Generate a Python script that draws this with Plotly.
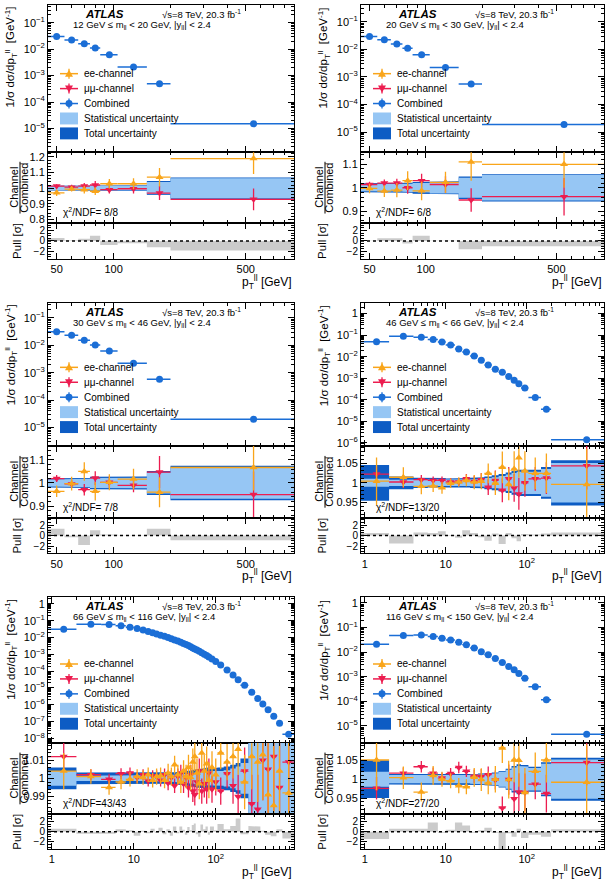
import numpy as np
import plotly.graph_objects as go

# ---------------------------------------------------------------- data
edges_low = [45, 55, 65, 75, 85, 105, 150, 200, 900]
ptc_low = [50, 60, 70, 80, 95, 127.5, 175, 550]

edges_off = [0, 2, 4, 6, 8, 10, 13, 16, 20, 25, 30, 37, 45, 55, 65, 75, 85, 105, 150, 200, 900]
ptc_off = [1.4, 3, 5, 7, 9, 11.5, 14.5, 18, 22.5, 27.5, 33.5, 41, 50, 60, 70, 80, 95, 127.5, 175, 550]

edges_peak = [0, 2, 4, 6, 8, 10, 12, 14, 16, 18, 20, 22.5, 25, 27.5, 30, 33, 36, 39, 42, 45, 48, 51,
              54, 57, 61, 65, 70, 75, 80, 85, 95, 105, 125, 150, 175, 200, 250, 300, 350, 400, 470,
              550, 650, 900]
ptc_peak = [1.4, 3, 5, 7, 9, 11, 13, 15, 17, 19, 21.25, 23.75, 26.25, 28.75, 31.5, 34.5, 37.5, 40.5,
            43.5, 46.5, 49.5, 52.5, 55.5, 59, 63, 67.5, 72.5, 77.5, 82.5, 90, 100, 115, 137.5, 162.5,
            187.5, 225, 275, 325, 375, 435, 510, 600, 775]

mass_labels = [
    "12 GeV ≤ m<sub>ll</sub> &lt; 20 GeV, |y<sub>ll</sub>| &lt; 2.4",
    "20 GeV ≤ m<sub>ll</sub> &lt; 30 GeV, |y<sub>ll</sub>| &lt; 2.4",
    "30 GeV ≤ m<sub>ll</sub> &lt; 46 GeV, |y<sub>ll</sub>| &lt; 2.4",
    "46 GeV ≤ m<sub>ll</sub> &lt; 66 GeV, |y<sub>ll</sub>| &lt; 2.4",
    "66 GeV ≤ m<sub>ll</sub> &lt; 116 GeV, |y<sub>ll</sub>| &lt; 2.4",
    "116 GeV ≤ m<sub>ll</sub> &lt; 150 GeV, |y<sub>ll</sub>| &lt; 2.4",
]
chi2_labels = ["χ<sup>2</sup>/NDF= 8/8", "χ<sup>2</sup>/NDF= 6/8", "χ<sup>2</sup>/NDF= 7/8",
               "χ<sup>2</sup>/NDF=13/20", "χ<sup>2</sup>/NDF=43/43", "χ<sup>2</sup>/NDF=27/20"]

# 12-20 GeV
comb_m12 = [0.030, 0.022, 0.016, 0.011, 0.0062, 0.0021, 0.00049, 1.5e-5]
ee_m12 = [0.970, 0.994, 0.990, 0.980, 1.028, 1.028, 1.070, 1.190]
ee_err_m12 = [0.020, 0.015, 0.025, 0.025, 0.030, 0.035, 0.060, 0.100]
mm_m12 = [1.013, 1.006, 1.013, 1.020, 0.990, 0.996, 0.968, 0.928]
mm_err_m12 = [0.012, 0.015, 0.020, 0.025, 0.025, 0.030, 0.045, 0.070]
stat_m12 = [0.012, 0.011, 0.012, 0.013, 0.012, 0.015, 0.040, 0.063]
tot_m12 = [0.016, 0.015, 0.016, 0.017, 0.016, 0.019, 0.045, 0.068]
pull_m12 = [0.55, 0.1, 0.4, 1.0, -0.8, -0.45, -1.2, -1.8]

# 20-30 GeV
comb_m20 = [0.0295, 0.0224, 0.0156, 0.011, 0.0064, 0.0022, 0.00056, 1.9e-5]
ee_m20 = [0.997, 0.986, 0.990, 1.030, 0.987, 1.023, 1.110, 1.100]
ee_err_m20 = [0.020, 0.025, 0.030, 0.040, 0.040, 0.045, 0.080, 0.100]
mm_m20 = [1.014, 1.020, 1.020, 1.000, 1.030, 1.014, 0.948, 0.962]
mm_err_m20 = [0.012, 0.015, 0.018, 0.025, 0.030, 0.035, 0.050, 0.080]
stat_m20 = [0.015, 0.015, 0.016, 0.017, 0.020, 0.024, 0.043, 0.054]
tot_m20 = [0.019, 0.019, 0.020, 0.021, 0.025, 0.028, 0.048, 0.058]
pull_m20 = [0.05, 0.5, 0.5, -0.5, 1.0, 0.05, -1.6, -1.0]

# 30-46 GeV
comb_m30 = [0.031, 0.0234, 0.0154, 0.0102, 0.0062, 0.0022, 0.00058, 2.0e-5]
ee_m30 = [0.964, 0.997, 1.050, 0.964, 1.003, 1.017, 0.960, 1.067]
ee_err_m30 = [0.025, 0.030, 0.040, 0.040, 0.035, 0.045, 0.065, 0.100]
mm_m30 = [1.019, 0.996, 0.971, 1.021, 1.003, 0.990, 1.047, 0.950]
mm_err_m30 = [0.015, 0.018, 0.025, 0.030, 0.025, 0.030, 0.070, 0.100]
stat_m30 = [0.015, 0.016, 0.018, 0.022, 0.022, 0.023, 0.045, 0.068]
tot_m30 = [0.020, 0.020, 0.022, 0.027, 0.027, 0.028, 0.052, 0.075]
pull_m30 = [1.3, -0.3, -1.8, 1.0, 0.2, 0.05, 1.3, -0.9]

# 46-66 GeV
comb_m46 = [0.049, 0.090, 0.081, 0.063, 0.048, 0.035, 0.023, 0.0165, 0.0107, 0.0068, 0.0041, 0.0026,
            0.0019, 0.0012, 0.00082, 0.00056, 0.00035, 0.000128, 3.7e-5, 1.4e-6]
ee_m46 = [1.004, 1.014, 0.991, 0.992, 0.9875, 0.999, 1.002, 1.006, 1.002, 1.004, 1.024, 0.999,
          1.039, 0.996, 1.035, 1.063, 1.030, 1.024, 1.024, 0.996]
ee_err_m46 = [0.060, 0.025, 0.020, 0.015, 0.015, 0.012, 0.012, 0.015, 0.018, 0.020, 0.025, 0.030,
              0.040, 0.040, 0.045, 0.050, 0.050, 0.040, 0.050, 0.090]
mm_m46 = [1.022, 1.002, 1.008, 1.006, 1.006, 1.002, 1.002, 1.010, 1.003, 1.008, 0.989, 1.006,
          0.981, 1.010, 0.987, 0.972, 1.000, 1.010, 1.012, 1.043]
mm_err_m46 = [0.020, 0.015, 0.012, 0.010, 0.010, 0.010, 0.010, 0.012, 0.015, 0.017, 0.020, 0.025,
              0.030, 0.030, 0.035, 0.040, 0.035, 0.030, 0.040, 0.060]
stat_m46 = [0.010, 0.008, 0.008, 0.008, 0.008, 0.008, 0.008, 0.008, 0.009, 0.010, 0.012, 0.014,
            0.017, 0.021, 0.025, 0.028, 0.028, 0.028, 0.035, 0.050]
tot_m46 = [0.045, 0.016, 0.013, 0.012, 0.012, 0.011, 0.011, 0.012, 0.013, 0.014, 0.016, 0.019,
           0.022, 0.026, 0.030, 0.033, 0.033, 0.033, 0.040, 0.057]
pull_m46 = [0.5, -1.5, 0.6, 0.5, 0.8, 0.1, -0.4, 1.0, 0.5, -0.3, -1.0, 0.4, -1.6, 0.5, -0.5, -1.1,
            0.3, 0.2, 0.4, 0.6]

# 66-116 GeV
comb_m66 = [0.031, 0.061, 0.060, 0.050, 0.041, 0.034, 0.028, 0.023, 0.0193, 0.0163, 0.0138, 0.0117,
            0.0099, 0.0085, 0.0072, 0.0061, 0.0052, 0.0044, 0.0038, 0.0033, 0.0028, 0.0024, 0.0021,
            0.0018, 0.0015, 0.00125, 0.00102, 0.00084, 0.00069, 0.00052, 0.00037, 0.00023,
            0.000118, 0.000058, 0.000031, 1.45e-5, 5.6e-6, 2.4e-6, 1.1e-6, 5.0e-7, 2.1e-7,
            8.0e-8, 1.8e-8]
ee_m66 = [1.004, 1.001, 0.995, 0.998, 0.9995, 1.001, 1.0005, 1.002, 0.999, 1.001, 1.0015, 0.999,
          1.003, 1.001, 1.0075, 1.002, 0.998, 1.004, 1.001, 1.006, 1.0005, 1.009, 1.012, 1.003,
          0.997, 1.014, 1.004, 1.008, 0.999, 1.006, 1.002, 1.014, 1.009, 1.012, 1.016, 0.998,
          1.012, 1.009, 1.013, 0.991, 0.985, 1.004, 0.992]
ee_err_m66 = [0.010, 0.004, 0.004, 0.004, 0.004, 0.004, 0.004, 0.004, 0.004, 0.0045, 0.0045,
              0.0045, 0.005, 0.005, 0.005, 0.0055, 0.006, 0.006, 0.0065, 0.007, 0.007, 0.0075,
              0.008, 0.008, 0.0085, 0.009, 0.009, 0.0095, 0.010, 0.009, 0.009, 0.009, 0.010,
              0.012, 0.014, 0.015, 0.018, 0.022, 0.025, 0.030, 0.035, 0.040, 0.050]
mm_m66 = [1.012, 1.002, 0.9995, 1.0026, 1.003, 1.0005, 1.002, 0.9985, 1.0015, 1.001, 0.999, 1.002,
          0.9975, 1.0005, 0.996, 1.001, 1.003, 0.997, 1.0005, 0.995, 1.002, 0.993, 0.991, 0.998,
          1.004, 0.993, 0.997, 0.994, 1.003, 0.994, 0.998, 0.993, 1.0025, 0.996, 0.990, 1.004,
          0.986, 0.983, 1.010, 1.005, 1.012, 0.995, 1.009]
mm_err_m66 = [0.008, 0.003, 0.003, 0.003, 0.003, 0.003, 0.003, 0.003, 0.003, 0.0035, 0.0035,
              0.0035, 0.004, 0.004, 0.004, 0.0045, 0.0045, 0.005, 0.005, 0.0055, 0.0055, 0.006,
              0.006, 0.0065, 0.007, 0.007, 0.0075, 0.008, 0.008, 0.0075, 0.0075, 0.0075, 0.008,
              0.010, 0.012, 0.013, 0.016, 0.019, 0.022, 0.026, 0.030, 0.035, 0.045]
stat_m66 = [0.004, 0.0015, 0.0015, 0.0015, 0.0015, 0.0015, 0.0015, 0.0015, 0.0015, 0.0016, 0.0016,
            0.0017, 0.0018, 0.0019, 0.002, 0.0021, 0.0022, 0.0024, 0.0025, 0.0027, 0.0028, 0.003,
            0.0032, 0.0033, 0.0035, 0.0036, 0.0038, 0.004, 0.0042, 0.0038, 0.004, 0.004, 0.0045,
            0.0055, 0.0065, 0.0085, 0.025, 0.030, 0.035, 0.040, 0.050, 0.060, 0.080]
tot_m66 = [0.006, 0.0032, 0.003, 0.003, 0.003, 0.003, 0.003, 0.003, 0.003, 0.003, 0.003, 0.003,
           0.0032, 0.0033, 0.0034, 0.0035, 0.0036, 0.0038, 0.004, 0.0042, 0.0044, 0.0046, 0.0048,
           0.005, 0.0052, 0.0054, 0.0056, 0.0058, 0.006, 0.0055, 0.0058, 0.006, 0.0065, 0.0075,
           0.0085, 0.011, 0.028, 0.033, 0.038, 0.043, 0.053, 0.063, 0.085]
pull_m66 = [0.6, -0.4, -0.4, 0.5, 0.3, -0.8, 0.2, -0.3, 0.6, -0.2, 0.8, -0.5, 0.5, -0.8, 1.0, -0.3,
            1.0, 0.4, -0.6, 0.9, 0.3, 1.3, 1.6, -0.5, -1.0, 1.4, 0.5, 1.0, -0.6, 1.0, 0.3, 1.5,
            0.5, 1.1, 2.6, -0.5, 1.1, 1.0, 0.2, -0.6, -0.9, 0.5, -1.3]

# 116-150 GeV
comb_m116 = [0.021, 0.047, 0.050, 0.043, 0.037, 0.031, 0.025, 0.020, 0.0147, 0.0104, 0.0078, 0.0055,
             0.0038, 0.0026, 0.0019, 0.00135, 0.00087, 0.00039, 0.000115, 4.6e-6]
ee_m116 = [1.051, 1.004, 0.966, 1.010, 1.000, 0.996, 0.983, 0.980, 1.005, 0.999, 0.990, 1.000,
           1.083, 0.999, 1.051, 1.050, 0.965, 1.021, 1.051, 0.992]
ee_err_m116 = [0.080, 0.030, 0.025, 0.025, 0.020, 0.020, 0.020, 0.020, 0.025, 0.030, 0.030, 0.035,
               0.040, 0.050, 0.060, 0.070, 0.065, 0.050, 0.060, 0.100]
mm_m116 = [0.976, 1.016, 1.033, 1.016, 1.003, 1.015, 1.031, 1.021, 1.008, 1.007, 1.012, 0.998,
           0.924, 0.999, 0.948, 0.966, 0.965, 0.987, 0.962, 1.044]
mm_err_m116 = [0.030, 0.015, 0.015, 0.015, 0.015, 0.015, 0.015, 0.015, 0.018, 0.020, 0.022, 0.025,
               0.030, 0.040, 0.045, 0.050, 0.050, 0.040, 0.050, 0.060]
stat_m116 = [0.020, 0.011, 0.010, 0.010, 0.010, 0.010, 0.011, 0.011, 0.012, 0.013, 0.014, 0.016,
             0.020, 0.025, 0.031, 0.035, 0.034, 0.030, 0.041, 0.052]
tot_m116 = [0.050, 0.014, 0.013, 0.013, 0.013, 0.013, 0.013, 0.014, 0.014, 0.015, 0.016, 0.018,
            0.022, 0.028, 0.035, 0.040, 0.038, 0.033, 0.045, 0.057]
pull_m116 = [-1.4, 0.6, 0.6, 1.8, -0.2, 0.4, 1.8, 1.2, -0.2, 0.3, 0.8, -0.2, -3.5, -0.3, -1.0, 0.6,
             -1.2, -0.6, -1.0, 0.5]

panels = [
    dict(edges=edges_low, x=ptc_low, comb=comb_m12, ee=ee_m12, ee_err=ee_err_m12, mm=mm_m12,
         mm_err=mm_err_m12, stat=stat_m12, tot=tot_m12, pull=pull_m12),
    dict(edges=edges_low, x=ptc_low, comb=comb_m20, ee=ee_m20, ee_err=ee_err_m20, mm=mm_m20,
         mm_err=mm_err_m20, stat=stat_m20, tot=tot_m20, pull=pull_m20),
    dict(edges=edges_low, x=ptc_low, comb=comb_m30, ee=ee_m30, ee_err=ee_err_m30, mm=mm_m30,
         mm_err=mm_err_m30, stat=stat_m30, tot=tot_m30, pull=pull_m30),
    dict(edges=edges_off, x=ptc_off, comb=comb_m46, ee=ee_m46, ee_err=ee_err_m46, mm=mm_m46,
         mm_err=mm_err_m46, stat=stat_m46, tot=tot_m46, pull=pull_m46),
    dict(edges=edges_peak, x=ptc_peak, comb=comb_m66, ee=ee_m66, ee_err=ee_err_m66, mm=mm_m66,
         mm_err=mm_err_m66, stat=stat_m66, tot=tot_m66, pull=pull_m66),
    dict(edges=edges_off, x=ptc_off, comb=comb_m116, ee=ee_m116, ee_err=ee_err_m116, mm=mm_m116,
         mm_err=mm_err_m116, stat=stat_m116, tot=tot_m116, pull=pull_m116),
]

# ---------------------------------------------------------------- style / geometry
W, H = 610, 885
FONT = "Liberation Sans, Arial, Helvetica, sans-serif"
ORANGE = "#f9a51a"
RED = "#ec1c4f"
BLUE = "#1b6ed6"
LIGHT = "#96c6f4"
DARK = "#0d5cc4"
GREY = "#cbcbcb"

COLS = [(48, 294), (361, 604)]
ROWS = [(4, 152, 223, 259), (303, 447, 519, 555), (599, 745, 817, 852)]
# horizontal offsets (from left axis) of the ratio / pull titles, per column
TITLE_OFF = [dict(chan=-34, comb=-24, pull=-31), dict(chan=-42, comb=-32, pull=-39)]

main_yr = [[-5.9, -0.33], [-5.73, -0.39], [-5.68, -0.44], [-6.14, 0.51], [-8.25, 0.39], [-5.68, 0.23]]
ratio_yr = [[0.776, 1.23], [0.85, 1.151], [0.85, 1.16], [0.912, 1.093], [0.9802, 1.0197], [0.907, 1.097]]
ratio_dt = [(0.1, 0.02), (0.1, 0.02), (0.1, 0.02), (0.05, 0.01), (0.01, 0.002), (0.05, 0.01)]
pull_yr = [-3.4, 3.4]
XLOW = 0.5


def px(x):
    return x / W


def py(y):
    return 1 - y / H


fig = go.Figure()
layout = dict(width=W, height=H, margin=dict(l=0, r=0, t=0, b=0), paper_bgcolor="white",
              plot_bgcolor="white", showlegend=False, font=dict(family=FONT, color="black"))
shapes, annos = [], []

AX = dict(showline=True, linecolor="black", linewidth=1, mirror="allticks", ticks="inside",
          ticklen=6, tickwidth=1, tickcolor="black", showgrid=False, zeroline=False,
          tickfont=dict(family=FONT, size=11, color="black"))


def minor_log(lo, hi):
    vals = []
    for k in range(int(np.floor(lo)) - 1, int(np.ceil(hi)) + 1):
        for m in range(2, 10):
            v = m * 10.0 ** k
            if lo <= np.log10(v) <= hi:
                vals.append(v)
    return vals


def anno(x, y, text, size, xanchor="left", yanchor="middle", angle=0, **kw):
    annos.append(dict(x=px(x), y=py(y), xref="paper", yref="paper", text=text, showarrow=False,
                      xanchor=xanchor, yanchor=yanchor, textangle=angle,
                      font=dict(family=FONT, size=size, color="black", **kw)))


for p, P in enumerate(panels):
    r, c = divmod(p, 2)
    L, R = COLS[c]
    T, M, RB, PB = ROWS[r]
    low = p < 3
    xr = [np.log10(45), np.log10(900)] if low else [np.log10(0.9), np.log10(900)]
    if low:
        xt_vals, xt_text = [50, 100, 500], ["50", "100", "500"]
        xminor = [60, 70, 80, 90, 200, 300, 400, 600, 700, 800, 900]
    else:
        xt_vals, xt_text = [1, 10, 100], ["1", "10", "10<sup>2</sup>"]
        xminor = minor_log(xr[0], xr[1])

    edges = [max(e, XLOW) for e in P["edges"]]
    xc = P["x"]
    n = len(xc)
    ex_plus = [edges[i + 1] - xc[i] for i in range(n)]
    ex_minus = [xc[i] - edges[i] for i in range(n)]

    doms = [(T, M), (M, RB), (RB, PB)]
    ids = []
    for s, (top, bot) in enumerate(doms):
        k = 3 * p + s + 1
        ids.append(k)
        xa = dict(AX, type="log", range=xr, domain=[px(L), px(R)], anchor=f"y{k}",
                  tickmode="array", tickvals=xt_vals, ticktext=xt_text,
                  showticklabels=(s == 2),
                  minor=dict(tickmode="array", tickvals=xminor, ticks="inside", ticklen=3,
                             tickcolor="black", showgrid=False))
        ya = dict(AX, domain=[py(bot), py(top)], anchor=f"x{k}")
        if s == 0:
            lo, hi = main_yr[p]
            decs = list(range(int(np.ceil(lo)), int(np.floor(hi)) + 1))
            ya.update(type="log", range=[lo, hi], tickmode="array",
                      tickvals=[10.0 ** d for d in decs],
                      ticktext=["1" if d == 0 else ("10" if d == 1 else f"10<sup>{'−' if d < 0 else ''}{abs(d)}</sup>") for d in decs],
                      minor=dict(tickmode="array", tickvals=minor_log(lo, hi), ticks="inside",
                                 ticklen=3, tickcolor="black", showgrid=False))
        elif s == 1:
            d, md = ratio_dt[p]
            ya.update(type="linear", range=ratio_yr[p], tickmode="linear", tick0=1, dtick=d,
                      minor=dict(tickmode="linear", tick0=1, dtick=md, ticks="inside", ticklen=3,
                                 tickcolor="black", showgrid=False))
        else:
            ya.update(type="linear", range=pull_yr, tickmode="linear", tick0=0, dtick=2,
                      tickfont=dict(family=FONT, size=10, color="black"),
                      minor=dict(tickmode="linear", tick0=0, dtick=0.5, ticks="inside", ticklen=3,
                                 tickcolor="black", showgrid=False))
        layout["xaxis" if k == 1 else f"xaxis{k}"] = xa
        layout["yaxis" if k == 1 else f"yaxis{k}"] = ya

    km, kr, kp = ids
    ref = lambda k: ("x" if k == 1 else f"x{k}", "y" if k == 1 else f"y{k}")

    # ---- main: combined
    xx, yy = ref(km)
    fig.add_trace(go.Scatter(x=xc, y=P["comb"], mode="markers", xaxis=xx, yaxis=yy,
                             marker=dict(color=BLUE, size=7, symbol="circle"),
                             error_x=dict(type="data", symmetric=False, array=ex_plus,
                                          arrayminus=ex_minus, width=0, thickness=1.5, color=BLUE),
                             hoverinfo="skip"))

    # ---- ratio: bands
    xx, yy = ref(kr)
    for half, col in ((P["tot"], DARK), (P["stat"], LIGHT)):
        bx, by = [], []
        for i in range(n):
            bx += [edges[i], edges[i + 1]]
            by += [1 + half[i], 1 + half[i]]
        for i in reversed(range(n)):
            bx += [edges[i + 1], edges[i]]
            by += [1 - half[i], 1 - half[i]]
        fig.add_trace(go.Scatter(x=bx, y=by, mode="lines", fill="toself", fillcolor=col,
                                 line=dict(width=0, color=col), xaxis=xx, yaxis=yy,
                                 hoverinfo="skip"))
    for vals, errs, col, sym in ((P["mm"], P["mm_err"], RED, "triangle-down"),
                                 (P["ee"], P["ee_err"], ORANGE, "triangle-up")):
        fig.add_trace(go.Scatter(x=xc, y=vals, mode="markers", xaxis=xx, yaxis=yy,
                                 marker=dict(color=col, size=7, symbol=sym),
                                 error_x=dict(type="data", symmetric=False, array=ex_plus,
                                              arrayminus=ex_minus, width=0, thickness=1.3,
                                              color=col),
                                 error_y=dict(type="data", array=errs, width=0, thickness=1.3,
                                              color=col),
                                 hoverinfo="skip"))

    # ---- pull
    xx, yy = ref(kp)
    gx, gy = [edges[0]], [0]
    for i in range(n):
        gx += [edges[i], edges[i + 1]]
        gy += [P["pull"][i], P["pull"][i]]
    gx.append(edges[-1])
    gy.append(0)
    fig.add_trace(go.Scatter(x=gx, y=gy, mode="lines", fill="toself", fillcolor=GREY,
                             line=dict(width=0, color=GREY), xaxis=xx, yaxis=yy,
                             hoverinfo="skip"))
    shapes.append(dict(type="line", xref=f"x{kp} domain", yref=f"y{kp}", x0=0, x1=1, y0=0, y1=0,
                       line=dict(color="black", width=1.5, dash="dot")))

    # ---- texts
    off = TITLE_OFF[c]
    anno(L + 35, T + 9, "<b><i>ATLAS</i></b>", 11.5)
    anno(L + 112, T + 9, "√s=8 TeV, 20.3 fb<sup>-1</sup>", 9.5)
    anno(L + 23, T + 20, mass_labels[p], 9.5)
    anno(L - 37, T, "1/σ dσ/dp<sub>T</sub><sup>ll</sup>  [GeV<sup>-1</sup>]", 11.5,
         xanchor="center", yanchor="top", angle=-90)
    rc = (M + RB) / 2
    anno(L + off["chan"], rc, "Channel", 11, xanchor="center", angle=-90)
    anno(L + off["comb"], rc, "Combined", 11, xanchor="center", angle=-90)
    xb = L + (off["chan"] + off["comb"]) / 2 + 1
    shapes.append(dict(type="line", xref="paper", yref="paper", x0=px(xb), x1=px(xb),
                       y0=py(rc - 26), y1=py(rc + 26), line=dict(color="black", width=1)))
    anno(L + off["pull"], (RB + PB) / 2, "Pull [σ]", 11.5, xanchor="center", angle=-90)
    anno(R, PB + 23, "p<sub>T</sub><sup>ll</sup> [GeV]", 12, xanchor="right")
    anno(L + 13, RB - 11, chi2_labels[p], 10)

    # ---- legend
    items = [("ee-channel", ORANGE, "up"), ("μμ-channel", RED, "down"),
             ("Combined", BLUE, "circle"), ("Statistical uncertainty", LIGHT, "box"),
             ("Total uncertainty", DARK, "box")]
    for (label, col, kind), offy in zip(items, [79, 64, 49, 34, 19]):
        yv = M - offy
        cx = L + 21
        if kind == "box":
            shapes.append(dict(type="rect", xref="paper", yref="paper", x0=px(L + 12),
                               x1=px(L + 30), y0=py(yv + 6), y1=py(yv - 6), fillcolor=col,
                               line=dict(width=0)))
        else:
            shapes.append(dict(type="line", xref="paper", yref="paper", x0=px(L + 12),
                               x1=px(L + 30), y0=py(yv), y1=py(yv),
                               line=dict(color=col, width=1.5)))
            shapes.append(dict(type="line", xref="paper", yref="paper", x0=px(cx), x1=px(cx),
                               y0=py(yv - 5), y1=py(yv + 5), line=dict(color=col, width=1.3)))
            if kind == "circle":
                shapes.append(dict(type="circle", xref="paper", yref="paper", x0=px(cx - 3.5),
                                   x1=px(cx + 3.5), y0=py(yv + 3.5), y1=py(yv - 3.5),
                                   fillcolor=col, line=dict(width=0)))
            else:
                sgn = 1 if kind == "up" else -1
                path = (f"M {px(cx)},{py(yv - 4 * sgn)} L {px(cx - 4)},{py(yv + 3 * sgn)} "
                        f"L {px(cx + 4)},{py(yv + 3 * sgn)} Z")
                shapes.append(dict(type="path", xref="paper", yref="paper", path=path,
                                   fillcolor=col, line=dict(width=0)))
        anno(L + 34, yv, label, 10)

layout["shapes"] = shapes
layout["annotations"] = annos
fig.update_layout(**layout)
fig.write_html("out.html", config={"displayModeBar": False},
               post_script="document.body.style.margin='0';document.body.style.overflow='hidden';")
